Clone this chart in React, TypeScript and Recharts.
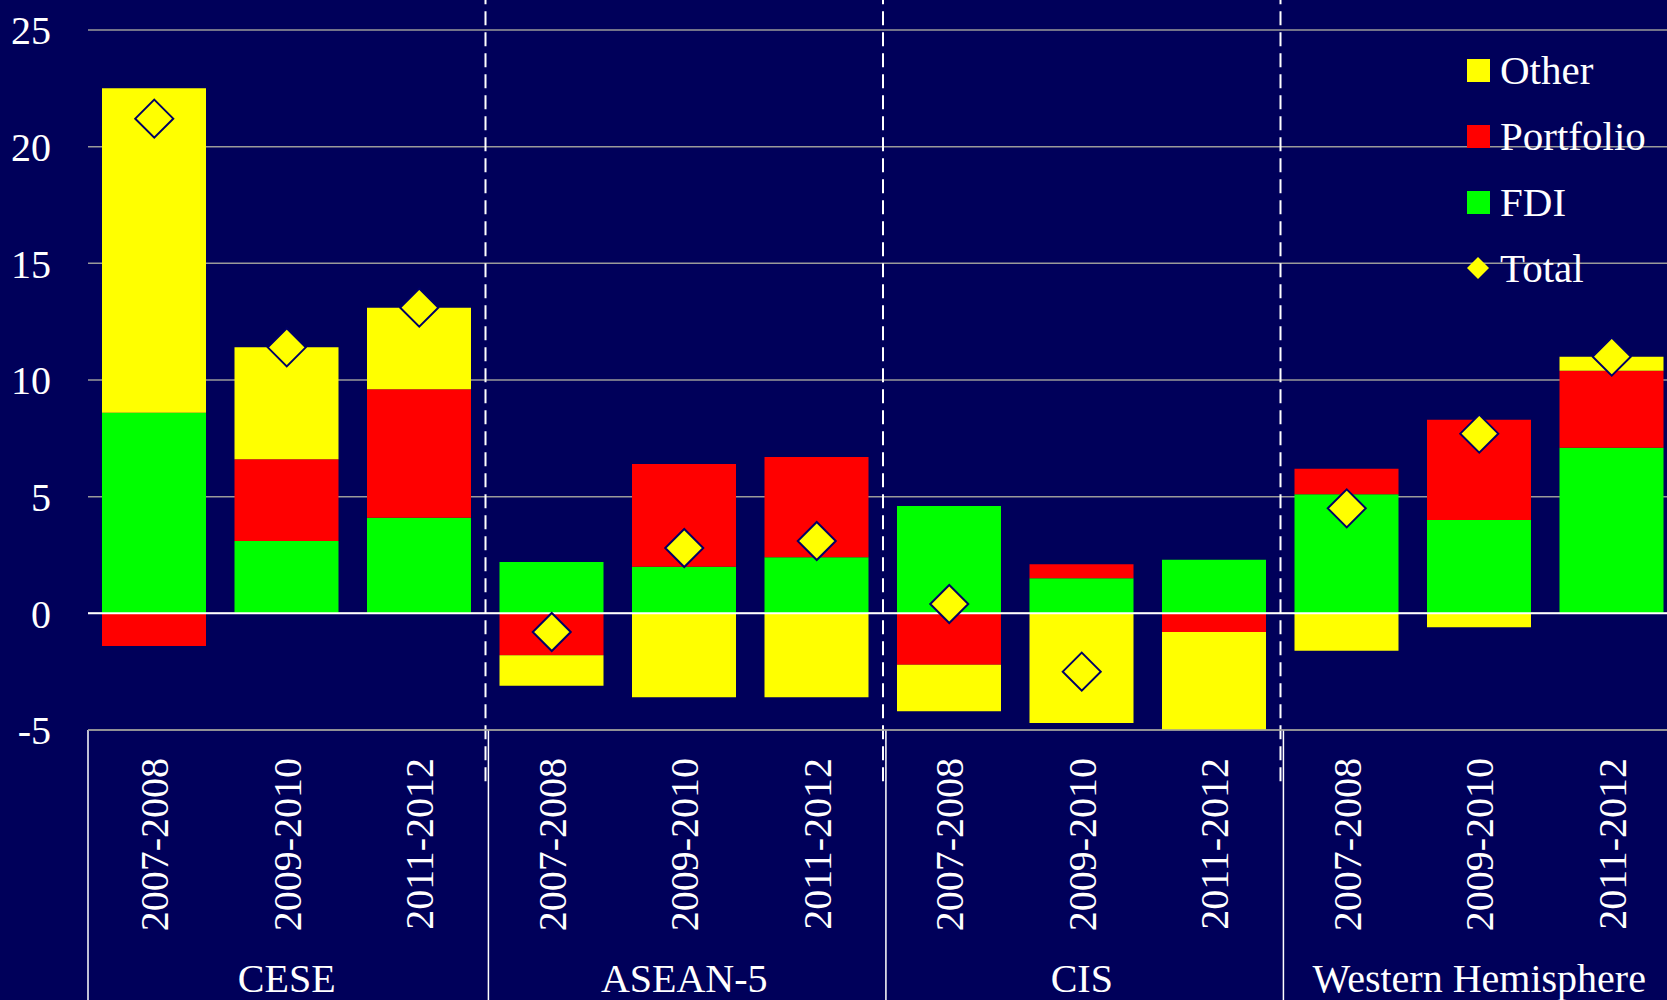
import React from "react";
import { ComposedChart, Bar, Scatter, XAxis, YAxis, CartesianGrid, ReferenceLine, Legend } from "recharts";

const groups = ["CESE", "ASEAN-5", "CIS", "Western Hemisphere"];
const periods = ["2007-2008", "2009-2010", "2011-2012"];

const fdi = [8.6, 3.1, 4.1, 2.2, 2.0, 2.4, 4.6, 1.5, 2.3, 5.1, 4.0, 7.1];
const portfolio = [-1.4, 3.5, 5.5, -1.8, 4.4, 4.3, -2.2, 0.6, -0.8, 1.1, 4.3, 3.3];
const other = [13.9, 4.8, 3.5, -1.3, -3.6, -3.6, -2.0, -4.7, -4.3, -1.6, -0.6, 0.6];
const total: (number | null)[] = [21.2, 11.4, 13.1, -0.8, 2.8, 3.1, 0.4, -2.5, null, 4.5, 7.7, 11.0];

const yTicks = [-5, 0, 5, 10, 15, 20, 25];

const BG = "#00005A";
const GRID = "#9a9a9a";
const FONT = "'Liberation Serif', 'DejaVu Serif', serif";

const legendItems = [
  { name: "Other", color: "#FFFF00", kind: "square" },
  { name: "Portfolio", color: "#FF0000", kind: "square" },
  { name: "FDI", color: "#00FF00", kind: "square" },
  { name: "Total", color: "#FFFF00", kind: "diamond" },
];

// slot = position of each bar in a 0..12 linear scale, used only to place group separators
const data = groups.flatMap((g, gi) =>
  periods.map((p, pi) => {
    const i = gi * 3 + pi;
    return { group: g, period: p, slot: i + 0.5, fdi: fdi[i], portfolio: portfolio[i], other: other[i], total: total[i] };
  })
);
const nSlots = data.length;
const boundaries = groups.map((_, gi) => gi * periods.length);

const PeriodTick = (props: any) => {
  const { x, y, payload, index } = props;
  const row = data[index];
  return (
    <g>
      <g transform={`translate(${x},${y + 26}) rotate(-90)`}>
        <text textAnchor="end" dy="0.35em" fill="#fff" fontSize={40} fontFamily={FONT}>
          {payload.value}
        </text>
      </g>
      {index % 3 === 1 && (
        <text x={x} y={y + 260} textAnchor="middle" fill="#fff" fontSize={40} fontFamily={FONT}>
          {row.group}
        </text>
      )}
    </g>
  );
};

const Diamond = (props: any) => {
  const { cx, cy, payload } = props;
  if (payload == null || payload.total == null || cx == null || cy == null || isNaN(cy)) return <g />;
  const r = 19;
  return (
    <polygon
      points={`${cx},${cy - r} ${cx + r},${cy} ${cx},${cy + r} ${cx - r},${cy}`}
      fill="#FFFF00"
      stroke="#000066"
      strokeWidth={2}
    />
  );
};

const renderLegend = () => (
  <div style={{ fontFamily: FONT, color: "#fff", fontSize: 41 }}>
    {legendItems.map((it) => (
      <div key={it.name} style={{ display: "flex", alignItems: "center", height: 66 }}>
        <div style={{ width: 24, display: "flex", justifyContent: "center", marginRight: 10 }}>
          {it.kind === "square" ? (
            <div style={{ width: 23, height: 23, background: it.color }} />
          ) : (
            <svg width={22} height={22}>
              <polygon points="11,0 22,11 11,22 0,11" fill={it.color} />
            </svg>
          )}
        </div>
        <span style={{ lineHeight: "41px" }}>{it.name}</span>
      </div>
    ))}
  </div>
);

export default function App() {
  return (
    <div style={{ position: "absolute", left: 0, top: 0, width: 1667, height: 1000, overflow: "hidden", background: BG }}>
      <ComposedChart
        width={1678}
        height={1000}
        data={data}
        stackOffset="sign"
        margin={{ top: 30, right: 0, bottom: 0, left: 0 }}
      >
        <CartesianGrid horizontal vertical={false} stroke={GRID} strokeWidth={1.5} />
        <XAxis
          dataKey="period"
          interval={0}
          height={270}
          tick={<PeriodTick />}
          tickLine={false}
          tickSize={0}
          axisLine={{ stroke: GRID, strokeWidth: 1.5 }}
        />
        <XAxis xAxisId="grid" type="number" dataKey="slot" domain={[0, nSlots]} allowDataOverflow hide />
        <YAxis
          domain={[-5, 25]}
          ticks={yTicks}
          allowDataOverflow
          width={88}
          axisLine={false}
          tickLine={false}
          tickSize={0}
          tickMargin={37}
          tick={{ fill: "#fff", fontSize: 40, fontFamily: FONT }}
        />
        <Bar dataKey="fdi" stackId="a" fill="#00FF00" barSize={104} isAnimationActive={false} />
        <Bar dataKey="portfolio" stackId="a" fill="#FF0000" barSize={104} isAnimationActive={false} />
        <Bar dataKey="other" stackId="a" fill="#FFFF00" barSize={104} isAnimationActive={false} />
        <ReferenceLine y={0} stroke="#fff" strokeWidth={2} />
        {boundaries.filter((b) => b > 0).map((b) => (
          <ReferenceLine
            key={`d${b}`}
            xAxisId="grid"
            segment={[{ x: b, y: -7.2 }, { x: b, y: 26.4 }]}
            ifOverflow="visible"
            stroke="#fff"
            strokeWidth={2}
            strokeDasharray="14 7"
          />
        ))}
        {boundaries.map((b) => (
          <ReferenceLine
            key={`s${b}`}
            xAxisId="grid"
            segment={[{ x: b === 0 ? b : b + 0.022, y: -5 }, { x: b === 0 ? b : b + 0.022, y: -16.7 }]}
            ifOverflow="visible"
            stroke="#fff"
            strokeWidth={1.5}
          />
        ))}
        <Scatter dataKey="total" shape={<Diamond />} isAnimationActive={false} />
        <Legend
          content={renderLegend}
          layout="horizontal"
          verticalAlign="middle"
          align="center"
          wrapperStyle={{ position: "absolute", top: 37, left: 1466, width: 210, height: 270 }}
        />
      </ComposedChart>
    </div>
  );
}
